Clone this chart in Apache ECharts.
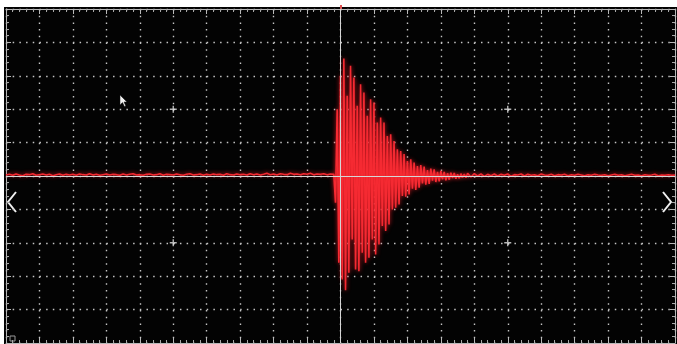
<!DOCTYPE html>
<html>
<head>
<meta charset="utf-8">
<script src="https://cdn.jsdelivr.net/npm/echarts@6/dist/echarts.min.js"></script>
<style>
  html, body { margin: 0; padding: 0; background: #ffffff; }
  #screen { position: absolute; left: 4px; top: 7px; width: 673px; height: 337px; background: #030303; }
  #chart { position: absolute; left: 0; top: 0; width: 677px; height: 344px; }
</style>
</head>
<body>
<div id="screen"></div>
<div id="chart"></div>
<script>
// Horizontal and vertical extent of the scope screen, in divisions
const xDivs = [-10, 10];
const yDivs = [-5, 5];

// Baseline before the trigger: starts at -10 div, one sample every 0.1 div
const preStart = -10, preStep = 0.1;
const preTrigger = [0.03,0.05,0.02,0.06,0.03,0.01,0.05,0.04,0.07,0.02,
  0.04,0.06,0.03,0.05,0.01,0.04,0.06,0.02,0.05,0.03,
  0.05,0.02,0.06,0.04,0.03,0.07,0.03,0.05,0.02,0.04,
  0.06,0.03,0.05,0.04,0.02,0.06,0.03,0.05,0.07,0.03,
  0.04,0.02,0.05,0.06,0.03,0.04,0.07,0.02,0.05,0.04,
  0.03,0.06,0.04,0.02,0.05,0.07,0.03,0.04,0.06,0.02,
  0.05,0.03,0.06,0.04,0.05,0.02,0.07,0.04,0.03,0.06,
  0.04,0.05,0.03,0.07,0.04,0.06,0.03,0.05,0.08,0.04,
  0.06,0.03,0.07,0.05,0.04,0.08,0.05,0.06,0.04,0.07,
  0.05,0.08,0.04,0.06,0.05,0.07,0.04,0.06];

// Ringing burst after the trigger: starts at -0.2 div, one sample every 0.05 div
const burstStart = -0.2, burstStep = 0.05;
const burst = [0.05,-0.8,2.0,-2.6,3.0,-3.1,3.52,-3.42,2.4,-2.9,
  3.3,-1.9,2.95,-2.8,2.1,-2.85,2.75,-2.3,2.5,-2.6,
  1.8,-2.45,2.3,-1.9,2.2,-2.35,1.6,-2.05,1.75,-1.5,
  1.6,-1.65,1.2,-1.45,1.25,-1.0,1.05,-0.95,0.8,-0.85,
  0.75,-0.6,0.66,-0.62,0.45,-0.55,0.5,-0.38,0.4,-0.42,
  0.3,-0.35,0.33,-0.22,0.28,-0.26,0.18,-0.24,0.22,-0.14,
  0.2,-0.18,0.12,-0.16,0.15,-0.1,0.12,-0.13,0.08,-0.11,
  0.1,-0.06,0.09,-0.08,0.05,-0.07,0.07,-0.04,0.06,-0.05];

// Settled baseline after the burst: starts at 3.8 div, one sample every 0.1 div
const tailStart = 3.8, tailStep = 0.1;
const tail = [0.08,-0.03,0.07,0.0,0.06,-0.01,0.05,0.01,0.06,0.0,
  0.05,0.02,0.06,-0.01,0.04,0.03,0.06,0.0,0.05,0.02,
  0.04,0.01,0.06,0.03,0.02,0.05,0.01,0.04,0.03,0.05,
  0.01,0.04,0.02,0.05,0.03,0.01,0.04,0.02,0.05,0.03,
  0.02,0.04,0.01,0.03,0.05,0.02,0.04,0.01,0.03,0.05,
  0.02,0.03,0.01,0.04,0.02,0.03,0.05,0.01,0.03,0.02,
  0.04,0.02,0.03];

// Graticule cross marks
const crossMarks = [[-5, 2], [5, 2], [-5, -2], [5, -2]];

function toPairs(start, step, values) {
  return values.map((v, i) => [+(start + i * step).toFixed(3), v]);
}
const trace = [].concat(
  toPairs(preStart, preStep, preTrigger),
  toPairs(burstStart, burstStep, burst),
  toPairs(tailStart, tailStep, tail)
);

const gridColor = '#c4c4c4';
const dots = [1.5, 5.19];

function axisBase(extra) {
  return Object.assign({
    type: 'value',
    interval: 1,
    axisLabel: { show: false },
    axisLine: { show: true, onZero: false, lineStyle: { color: '#b8b8b8', width: 1 } },
    axisTick: { show: true, inside: true, length: 5, lineStyle: { color: '#b8b8b8' } },
    minorTick: { show: true, splitNumber: 5, length: 3, lineStyle: { color: '#a8a8a8' } },
    splitLine: { show: false }
  }, extra);
}

const chart = echarts.init(document.getElementById('chart'), null, { renderer: 'canvas' });
chart.setOption({
  animation: false,
  backgroundColor: 'transparent',
  grid: { left: 6, top: 9, width: 669, height: 334, containLabel: false },
  xAxis: [
    axisBase({ min: xDivs[0], max: xDivs[1], position: 'bottom',
      splitLine: { show: true, lineStyle: { color: gridColor, width: 1.4, type: dots } } }),
    axisBase({ min: xDivs[0], max: xDivs[1], position: 'top' })
  ],
  yAxis: [
    axisBase({ min: yDivs[0], max: yDivs[1], position: 'left',
      splitLine: { show: true, lineStyle: { color: gridColor, width: 1.4, type: dots } } }),
    axisBase({ min: yDivs[0], max: yDivs[1], position: 'right' })
  ],
  series: [
    {
      type: 'line',
      data: trace,
      showSymbol: false,
      sampling: null,
      z: 2,
      lineStyle: { color: '#f52a32', width: 1.6, shadowBlur: 4, shadowColor: 'rgba(255,30,40,0.85)' }
    },
    {
      type: 'line',
      data: [],
      z: 3,
      markLine: {
        silent: true,
        symbol: ['none', 'none'],
        label: { show: false },
        lineStyle: { color: '#d6d6d6', type: 'solid', width: 1 },
        data: [{ xAxis: 0 }, { yAxis: 0 }]
      }
    },
    {
      type: 'scatter',
      data: crossMarks,
      z: 4,
      symbol: 'path://M2,0H3V2H5V3H3V5H2V3H0V2H2Z',
      symbolSize: 7,
      itemStyle: { color: '#e2e2e2' }
    }
  ],
  graphic: [
    // scroll chevrons on either side of the screen
    { type: 'polyline', shape: { points: [[16, 192], [8, 202], [16, 212]] },
      style: { stroke: '#f0f0f0', lineWidth: 2, fill: null } },
    { type: 'polyline', shape: { points: [[663, 192], [671, 202], [663, 212]] },
      style: { stroke: '#f0f0f0', lineWidth: 2, fill: null } },
    // mouse pointer
    { type: 'polygon',
      shape: { points: [[120, 95], [120, 105], [122.5, 102.6], [124.4, 106.6], [125.8, 105.9], [124, 102], [127, 102]] },
      style: { fill: '#f2f2f2', stroke: '#111', lineWidth: 0.5 } },
    // small status icon in the lower left corner
    { type: 'rect', shape: { x: 10, y: 336, width: 5, height: 5 },
      style: { fill: null, stroke: '#9a9a9a', lineWidth: 1 } },
    // trigger position marker at the top edge
    { type: 'rect', shape: { x: 340, y: 5, width: 2, height: 5 },
      style: { fill: '#e05050' } }
  ]
});
</script>
</body>
</html>
